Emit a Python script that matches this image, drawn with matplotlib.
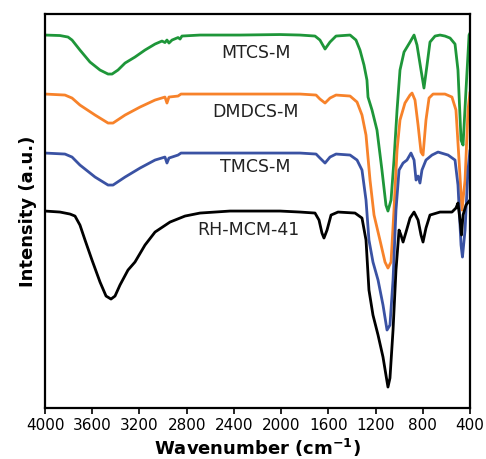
import matplotlib
matplotlib.use("Agg")
import matplotlib.pyplot as plt

# FTIR spectra (wavenumber in cm-1, intensity in arbitrary units)
wn_mtcs = [4000, 3873, 3805, 3771, 3704, 3619, 3534, 3466, 3432, 3382, 3322, 3238, 3153, 3068,
           3009, 2984, 2967, 2950, 2924, 2873, 2856, 2840, 2687, 2348, 2009, 1840, 1713, 1671,
           1628, 1586, 1535, 1416, 1366, 1332, 1298, 1273, 1264, 1230, 1188, 1146, 1112, 1095,
           1069, 1044, 1018, 993, 959, 908, 874, 849, 815, 790, 764, 739, 696, 654, 612, 569,
           527, 502, 476, 459, 434, 408, 400]
int_mtcs = [373, 372.5, 371, 368, 358, 346, 338, 334, 334, 338, 345, 351, 358, 364,
            367, 365.5, 368, 365, 368, 370.5, 369, 372, 373, 373, 373.5, 373, 372, 368,
            359, 366, 372, 373, 368, 358, 343, 328, 311, 298, 278, 238, 203, 197,
            208, 248, 298, 338, 356, 366, 373, 363, 338, 320, 343, 366, 372, 373, 372, 370,
            364, 338, 268, 263, 318, 373, 375]

wn_dmdcs = [4000, 3831, 3771, 3704, 3576, 3466, 3424, 3322, 3195, 3068, 2984, 2967, 2950, 2873,
            2848, 2264, 1840, 1704, 1671, 1628, 1586, 1535, 1416, 1357, 1315, 1281, 1247, 1213,
            1163, 1120, 1095, 1069, 1044, 1018, 993, 951, 908, 891, 866, 840, 815, 798, 773,
            747, 713, 612, 553, 519, 493, 468, 442, 417, 400]
int_dmdcs = [314, 313, 310, 303, 293, 285, 285, 293, 301, 308, 311, 305, 311, 312,
             314, 314, 314, 313, 309, 305, 310, 313, 312, 306, 293, 273, 228, 193,
             168, 146, 140, 146, 198, 258, 288, 305, 313, 315, 308, 283, 256, 253, 288,
             310, 314, 314, 311, 298, 248, 198, 228, 298, 316]

wn_tmcs = [4000, 3831, 3771, 3704, 3576, 3466, 3424, 3322, 3195, 3068, 2984, 2967, 2950, 2873,
           2848, 1840, 1704, 1671, 1628, 1586, 1535, 1416, 1357, 1315, 1281, 1256, 1222, 1179,
           1137, 1103, 1078, 1052, 1027, 1001, 967, 934, 900, 874, 857, 840, 824, 807, 773,
           722, 671, 586, 527, 502, 476, 464, 442, 417, 400]
int_tmcs = [255, 254, 251, 243, 231, 223, 223, 231, 240, 248, 251, 245, 250, 253,
            255, 255, 254, 250, 245, 251, 254, 253, 248, 238, 208, 168, 146, 128,
            103, 78, 83, 128, 198, 238, 245, 248, 255, 248, 228, 232, 225, 238, 248,
            253, 256, 253, 248, 223, 163, 151, 178, 238, 258]

wn_rh = [4000, 3873, 3788, 3746, 3704, 3661, 3602, 3534, 3483, 3441, 3407, 3365, 3297, 3238,
         3153, 3068, 2941, 2814, 2687, 2433, 2009, 1840, 1713, 1679, 1654, 1637, 1611, 1577,
         1518, 1374, 1315, 1281, 1256, 1222, 1179, 1137, 1112, 1095, 1078, 1052, 1027, 1001,
         985, 967, 942, 908, 874, 840, 815, 798, 773, 739, 654, 553, 519, 502, 485, 472,
         459, 434, 400]
int_rh = [197, 196, 194, 192, 183, 168, 148, 126, 112, 109, 112, 123, 138, 146,
          163, 176, 186, 192, 195, 197, 197, 196, 195, 188, 175, 170, 178, 193,
          196, 195, 190, 168, 118, 93, 73, 51, 33, 21, 30, 78, 138, 178,
          173, 166, 176, 190, 196, 188, 173, 166, 180, 193, 196, 196, 200, 205, 188, 173,
          193, 203, 208]

labels = ["MTCS-M", "DMDCS-M", "TMCS-M", "RH-MCM-41"]
label_pos = [(2213, 355), (2221, 296), (2221, 241), (2280, 178)]
colors = ["#1e9639", "#f7822a", "#3a52a3", "black"]
xticks = [4000, 3600, 3200, 2800, 2400, 2000, 1600, 1200, 800, 400]

fig = plt.figure(figsize=(4.86, 4.59), dpi=100)
ax = fig.add_axes([0.0926, 0.111, 0.8745, 0.8584])

series = [(wn_mtcs, int_mtcs), (wn_dmdcs, int_dmdcs), (wn_tmcs, int_tmcs), (wn_rh, int_rh)]
for (x, y), c in zip(series, colors):
    ax.plot(x, y, color=c, lw=2.0, solid_joinstyle="round", solid_capstyle="round")

for lab, (x, y) in zip(labels, label_pos):
    ax.text(x, y, lab, ha="center", va="center", fontsize=12.5, color="#222222")

ax.set_xlim(4000, 400)
ax.set_ylim(0, 394)
ax.set_xticks(xticks)
ax.set_xticklabels([str(t) for t in xticks], fontsize=11)
ax.set_yticks([])
ax.tick_params(axis="x", direction="out", length=4, width=1.2, pad=3)
for s in ax.spines.values():
    s.set_linewidth(1.6)

ax.set_xlabel("Wavenumber (cm$^{\\mathbf{-1}}$)", fontsize=13, fontweight="bold", labelpad=3)
ax.set_ylabel("Intensity (a.u.)", fontsize=13, fontweight="bold", labelpad=6)

fig.savefig("out.png", dpi=100)
